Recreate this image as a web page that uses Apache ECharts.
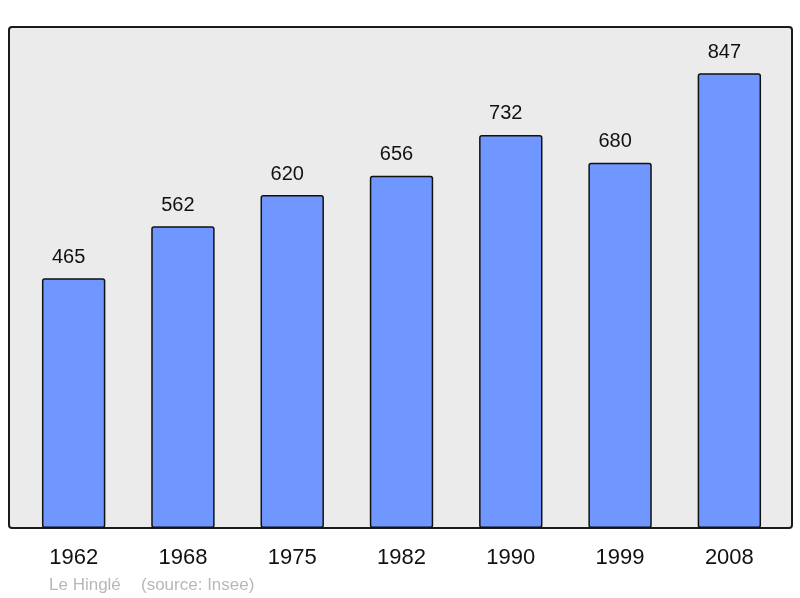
<!DOCTYPE html>
<html>
<head>
<meta charset="utf-8">
<script src="https://cdn.jsdelivr.net/npm/echarts@6/dist/echarts.min.js"></script>
<style>
html,body{margin:0;padding:0;background:#fff;}
#c{width:800px;height:598px;}
</style>
</head>
<body>
<div id="c"></div>
<script>
const categories = ['1962','1968','1975','1982','1990','1999','2008'];
const population = [465, 562, 620, 656, 732, 680, 847];
const footerName = 'Le Hinglé';
const footerSource = '(source: Insee)';

const chart = echarts.init(document.getElementById('c'), null, {renderer:'canvas'});
chart.setOption({
  backgroundColor: '#ffffff',
  animation: false,
  graphic: [
    {
      type: 'rect', z: -10, silent: true,
      shape: {x: 9, y: 27, width: 783, height: 501, r: 3},
      style: {fill: '#ebebeb', stroke: '#1a1a1a', lineWidth: 2}
    },
    {
      type: 'text', left: 49, top: 577, silent: true,
      style: {text: footerName, fill: '#b8b8b8', font: '17px "Liberation Sans", Arial, sans-serif'}
    },
    {
      type: 'text', left: 141, top: 577, silent: true,
      style: {text: footerSource, fill: '#b8b8b8', font: '17px "Liberation Sans", Arial, sans-serif'}
    }
  ],
  grid: {left: 19, width: 765, top: 27, height: 501},
  xAxis: {
    type: 'category', data: categories,
    axisLine: {show: false}, axisTick: {show: false},
    axisLabel: {color: '#111', fontSize: 22, fontFamily: '"Liberation Sans", Arial, sans-serif', margin: 19}
  },
  yAxis: {
    type: 'value', min: 0, max: 933,
    show: false, splitLine: {show: false}
  },
  series: [{
    type: 'bar', data: population, barWidth: '58%',
    itemStyle: {color: '#7096ff', borderColor: '#111', borderWidth: 1.5, borderRadius: 2},
    label: {show: true, position: 'top', distance: 11, offset: [-5, 0], color: '#111', fontSize: 20, fontFamily: '"Liberation Sans", Arial, sans-serif'}
  }]
});
</script>
</body>
</html>
